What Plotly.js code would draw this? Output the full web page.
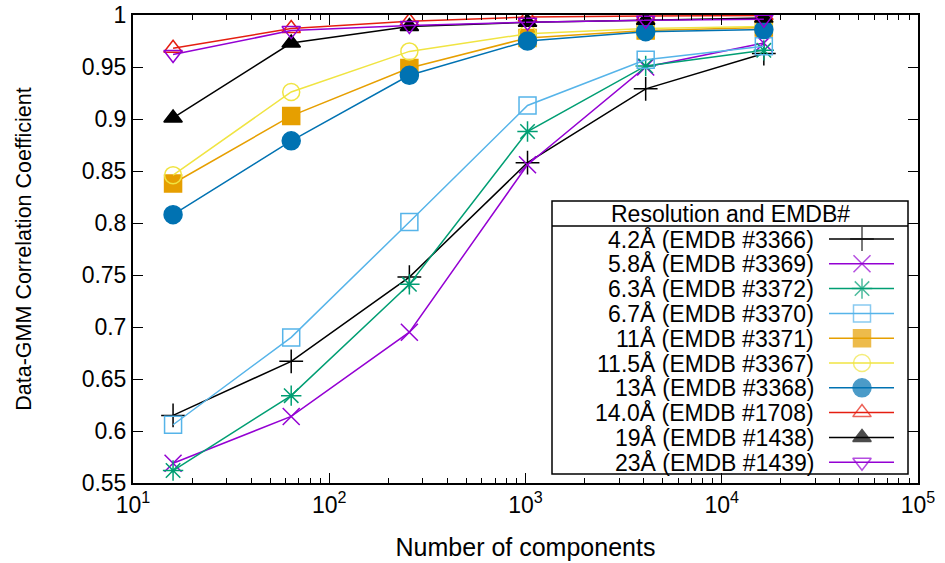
<!DOCTYPE html>
<html>
<head>
<meta charset="utf-8">
<script src="https://cdn.plot.ly/plotly-3.0.1.min.js"></script>
<style>html,body{margin:0;padding:0;background:#fff;}#chart{width:945px;height:563px;}</style>
</head>
<body>
<div id="chart"></div>
<script>
// Number of GMM components
const components = [16, 64, 256, 1024, 4096, 16384];

// Series names (legend labels)
const seriesNames = [
  "4.2Å (EMDB #3366)",
  "5.8Å (EMDB #3369)",
  "6.3Å (EMDB #3372)",
  "6.7Å (EMDB #3370)",
  "11Å (EMDB #3371)",
  "11.5Å (EMDB #3367)",
  "13Å (EMDB #3368)",
  "14.0Å (EMDB #1708)",
  "19Å (EMDB #1438)",
  "23Å (EMDB #1439)"
];

// Correlation coefficients per series
const res42  = [0.615, 0.667, 0.748, 0.858, 0.929, 0.963];
const res58  = [0.569, 0.614, 0.695, 0.856, 0.950, 0.973];
const res63  = [0.562, 0.634, 0.741, 0.888, 0.951, 0.966];
const res67  = [0.606, 0.690, 0.801, 0.913, 0.957, 0.970];
const res11  = [0.838, 0.903, 0.949, 0.978, 0.985, 0.988];
const res115 = [0.846, 0.926, 0.965, 0.982, 0.987, 0.989];
const res13  = [0.808, 0.879, 0.942, 0.975, 0.984, 0.986];
const res14  = [0.968, 0.987, 0.994, 0.998, 0.999, 0.9995];
const res19  = [0.901, 0.973, 0.989, 0.993, 0.995, 0.997];
const res23  = [0.962, 0.985, 0.990, 0.993, 0.995, 0.996];

const seriesValues = [res42, res58, res63, res67, res11, res115, res13, res14, res19, res23];

// Tick labels
const xTickVals = [10, 100, 1000, 10000, 100000];
const xTickText = ["10<sup>1</sup>", "10<sup>2</sup>", "10<sup>3</sup>", "10<sup>4</sup>", "10<sup>5</sup>"];
const legendTitle = "Resolution and EMDB#";
const xTitle = "Number of components";
const yTitle = "Data-GMM Correlation Coefficient";

// ---- styles ----
const colors = ["#000000", "#9400d3", "#009e73", "#56b4e9", "#e69f00", "#f0e442", "#0072b2", "#e51e10", "#000000", "#9400d3"];
const symbols = ["cross-thin-open", "x-thin-open", "asterisk-open", "square-open", "square", "circle-open", "circle", "triangle-up-open", "triangle-up", "triangle-down-open"];
const sizes = [17, 17, 17, 17, 17, 17, 18, 16, 16, 16];
const FONT = "Liberation Sans, Arial, Helvetica, sans-serif";

// plot-area geometry (pixels) used for the key box overlay
const W = 945, H = 563;
const M = {l: 133, r: 27, t: 15, b: 80};
const plotLeft = M.l, plotRight = W - M.r, plotTop = M.t, plotBottom = H - M.b;

// key (legend) layout in pixel units of the overlay axes
const key = {left: 552, right: 908, top: 201, bottom: 474, sep: 226, titleY: 213.5,
             row0: 239, rowStep: 24.8, textRight: 816, lineL: 829, lineR: 894, mark: 862};

function markerFor(i, sz) {
  return {
    symbol: symbols[i],
    size: sz,
    color: colors[i],
    line: {color: colors[i], width: 1.5}
  };
}

const traces = seriesNames.map((name, i) => ({
  type: "scatter",
  mode: "lines+markers",
  name: name,
  x: components,
  y: seriesValues[i],
  xaxis: "x",
  yaxis: "y",
  showlegend: false,
  line: {color: colors[i], width: 1.5},
  marker: markerFor(i, sizes[i])
}));

// key samples (line + symbol) for each series, drawn on an overlay axis measured in pixels
seriesNames.forEach((name, i) => {
  const ry = key.row0 + i * key.rowStep;
  traces.push({
    type: "scatter",
    mode: "lines+markers",
    name: name,
    x: [key.lineL, key.mark, key.lineR],
    y: [ry, ry, ry],
    xaxis: "x2",
    yaxis: "y2",
    showlegend: false,
    hoverinfo: "skip",
    line: {color: colors[i], width: 1.5},
    marker: Object.assign(markerFor(i, sizes[i]), {size: [0, sizes[i], 0]})
  });
});

const annotations = seriesNames.map((name, i) => ({
  xref: "x2", yref: "y2",
  x: key.textRight, y: key.row0 + i * key.rowStep,
  xanchor: "right", yanchor: "middle",
  text: name, showarrow: false,
  font: {family: FONT, size: 23, color: "#000"}
}));
annotations.push({
  xref: "x2", yref: "y2",
  x: (key.left + key.right) / 2, y: key.titleY,
  xanchor: "center", yanchor: "middle",
  text: legendTitle, showarrow: false,
  font: {family: FONT, size: 23, color: "#000"}
});

const shapes = [
  {type: "rect", xref: "x2", yref: "y2", x0: key.left, x1: key.right, y0: key.top, y1: key.bottom,
   line: {color: "#000", width: 1.5}, fillcolor: "rgba(0,0,0,0)", layer: "above"},
  {type: "line", xref: "x2", yref: "y2", x0: key.left, x1: key.right, y0: key.sep, y1: key.sep,
   line: {color: "#000", width: 1.5}, layer: "above"}
];

const axisCommon = {
  showline: true,
  linecolor: "#000",
  linewidth: 2,
  mirror: "allticks",
  ticks: "inside",
  ticklen: 10,
  tickwidth: 1,
  tickcolor: "#000",
  showgrid: false,
  zeroline: false,
  tickfont: {family: FONT, size: 23, color: "#000"}
};

const layout = {
  width: W,
  height: H,
  margin: M,
  paper_bgcolor: "#fff",
  plot_bgcolor: "#fff",
  font: {family: FONT, size: 23, color: "#000"},
  showlegend: false,
  xaxis: Object.assign({}, axisCommon, {
    type: "log",
    range: [1, 5],
    tickvals: xTickVals,
    ticktext: xTickText,
    minor: {ticks: "inside", ticklen: 5, tickwidth: 1, tickcolor: "#000", dtick: "D1", showgrid: false},
    title: {text: xTitle, font: {family: FONT, size: 25, color: "#000"}, standoff: 22}
  }),
  yaxis: Object.assign({}, axisCommon, {
    range: [0.55, 1],
    tick0: 0.55,
    dtick: 0.05,
    title: {text: yTitle, font: {family: FONT, size: 21.5, color: "#000"}, standoff: 44}
  }),
  xaxis2: {overlaying: "x", range: [plotLeft, plotRight], visible: false, fixedrange: true},
  yaxis2: {overlaying: "y", range: [plotBottom, plotTop], visible: false, fixedrange: true},
  annotations: annotations,
  shapes: shapes
};

Plotly.newPlot("chart", traces, layout, {staticPlot: true, displayModeBar: false});
</script>
</body>
</html>
